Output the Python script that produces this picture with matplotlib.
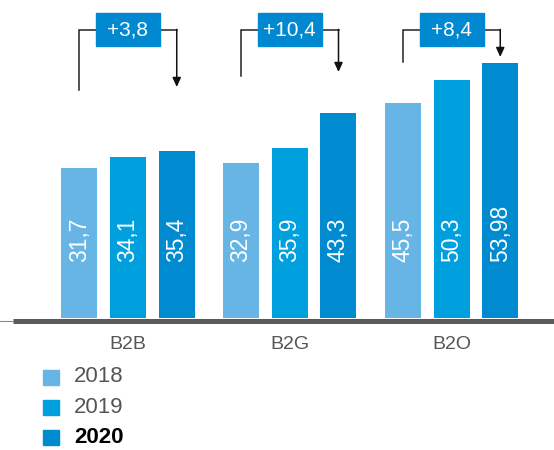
import matplotlib.pyplot as plt
from matplotlib.patches import Rectangle
from matplotlib.lines import Line2D

# data
categories = ['B2B', 'B2G', 'B2O']
years = ['2018', '2019', '2020']
values = {
    '2018': [31.7, 32.9, 45.5],
    '2019': [34.1, 35.9, 50.3],
    '2020': [35.4, 43.3, 53.98],
}
value_labels = {
    '2018': ['31,7', '32,9', '45,5'],
    '2019': ['34,1', '35,9', '50,3'],
    '2020': ['35,4', '43,3', '53,98'],
}
growth = ['+3,8', '+10,4', '+8,4']
colors = ['#66b5e4', '#00a0de', '#008bd1']

plt.rcParams['font.family'] = ['Liberation Sans', 'DejaVu Sans']

W, H = 554, 450
fig = plt.figure(figsize=(W / 100, H / 100), dpi=100)
ax = fig.add_axes([0, 132 / H, 1, 318 / H])

px_x = 161.75   # pixels per group
px_y = 4.724    # pixels per unit
ax.set_xlim(-128 / px_x, (W - 128) / px_x)
ax.set_ylim(0, 318 / px_y)

offset = 48.75 / px_x
width = 36 / px_x
for j, yr in enumerate(years):
    xs = [i + (j - 1) * offset for i in range(len(categories))]
    ax.bar(xs, values[yr], width=width, color=colors[j], zorder=2)
    for x, lab in zip(xs, value_labels[yr]):
        ax.text(x, 11.9, lab, rotation=90, ha='center', va='bottom',
                color='white', fontsize=16.5, zorder=3)

# growth brackets
top_y = (318 - 30) / px_y
left_bottom = [(318 - 90) / px_y, (318 - 76) / px_y, (318 - 62) / px_y]
arrow_tip = [(318 - 87) / px_y, (318 - 72) / px_y, (318 - 57) / px_y]
bw, bh = 64 / px_x, 33 / px_y
for i, g in enumerate(growth):
    xl = i - offset
    xr = i + offset
    ax.plot([xl, xl, xr], [left_bottom[i], top_y, top_y],
            color='#222222', lw=1.1, solid_joinstyle='miter', zorder=3)
    ax.annotate('', xy=(xr, arrow_tip[i]), xytext=(xr, top_y + 0.12),
                arrowprops=dict(arrowstyle='-|>,head_length=0.55,head_width=0.25',
                                color='#111111', lw=1.1, shrinkA=0, shrinkB=0),
                zorder=3)
    ax.add_patch(Rectangle((i - bw / 2, top_y - bh / 2 + 0.1), bw, bh,
                           color='#0088d1', zorder=4))
    ax.text(i, top_y + 0.1, g, ha='center', va='center', color='white',
            fontsize=15, zorder=5)

ax.set_xticks(range(len(categories)))
ax.set_xticklabels(categories, color='#555555', fontsize=14)
ax.tick_params(axis='x', length=0, pad=13)
ax.set_yticks([])
for s in ax.spines.values():
    s.set_visible(False)

# baseline
fig.add_artist(Line2D([13 / W, 1], [1 - 320.6 / H] * 2, color='#5a5a5a',
                      lw=3.6, solid_capstyle='butt', zorder=10))
fig.add_artist(Line2D([0, 13 / W], [1 - 320.7 / H] * 2, color='#888888',
                      lw=0.8, zorder=10))

# legend
for j, yr in enumerate(years):
    yc = 377 + j * 30.3
    fig.add_artist(Rectangle((43 / W, 1 - (yc + 7.5) / H), 16 / W, 15 / H,
                             color=colors[j]))
    bold = (yr == '2020')
    fig.text(74 / W, 1 - yc / H, yr, va='center', ha='left', fontsize=16,
             color='black' if bold else '#555555',
             fontweight='bold' if bold else 'normal')

fig.savefig('out.png', dpi=100)
